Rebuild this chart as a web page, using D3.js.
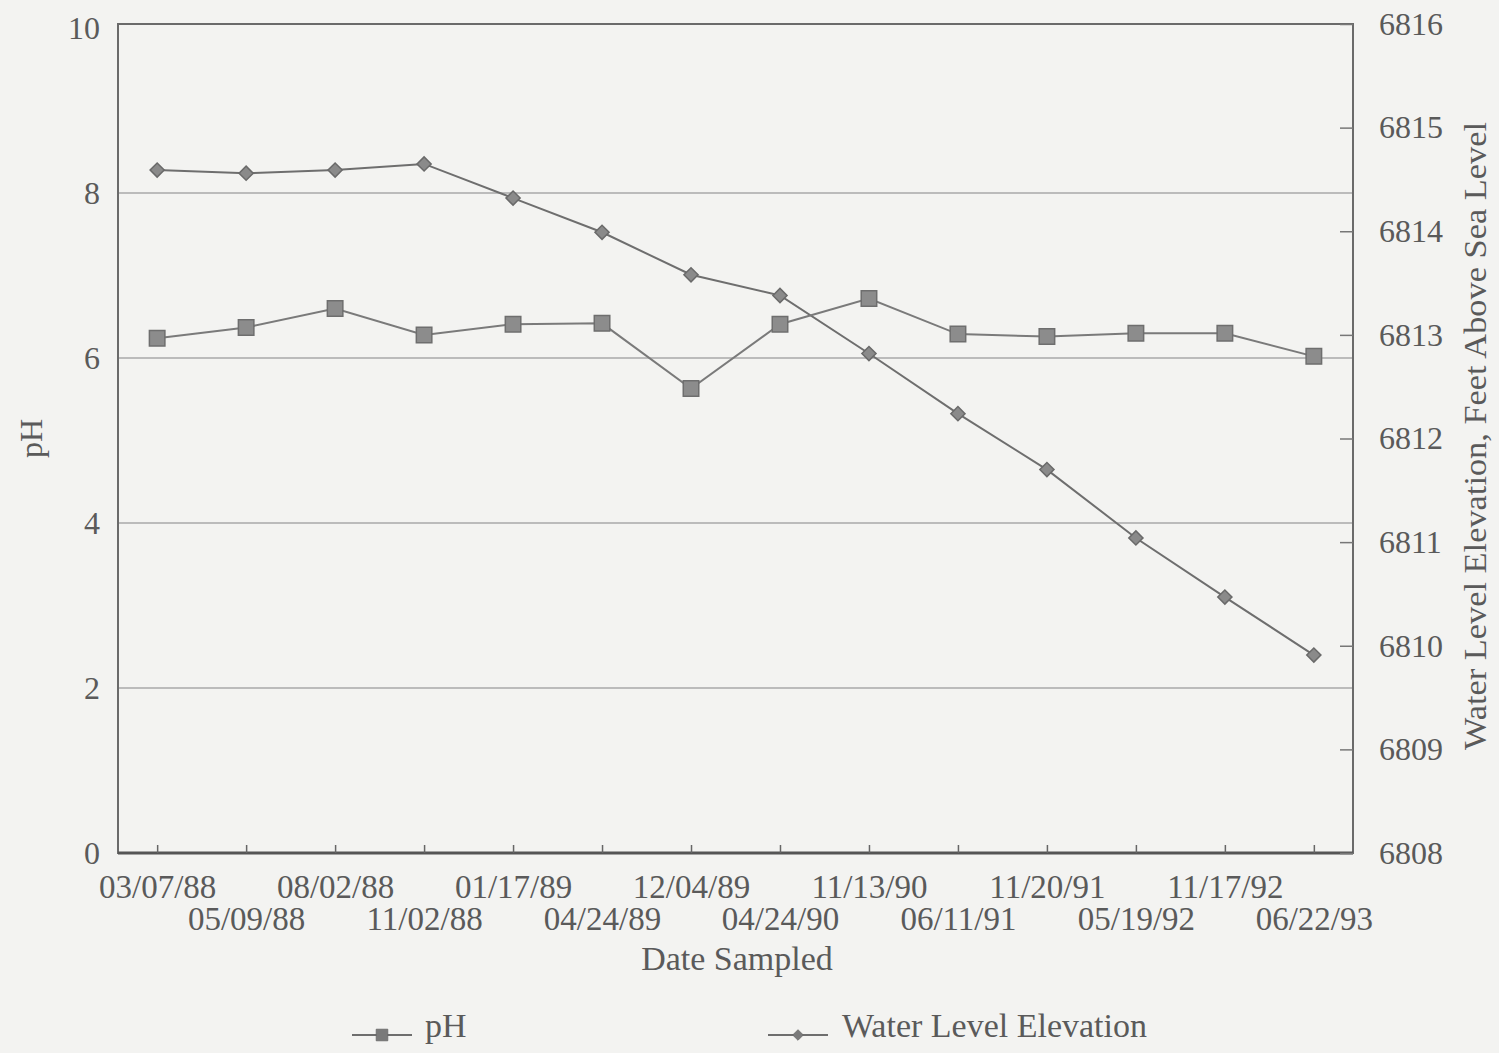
<!DOCTYPE html>
<html>
<head>
<meta charset="utf-8">
<script src="https://cdn.jsdelivr.net/npm/d3@7"></script>
<style>
  body { margin: 0; background: #f3f3f1; }
  svg { display: block; }
  text { font-family: "Liberation Serif", "Times New Roman", serif; fill: #5a5a5a; }
</style>
</head>
<body>
<svg id="chart_svg"></svg>
<script>
// Sampling dates
const dates = ["03/07/88", "05/09/88", "08/02/88", "11/02/88", "01/17/89", "04/24/89", "12/04/89",
  "04/24/90", "11/13/90", "06/11/91", "11/20/91", "05/19/92", "11/17/92", "06/22/93"];

// pH (left axis)
const phValues = [6.24, 6.37, 6.60, 6.28, 6.41, 6.42, 5.63, 6.41, 6.72, 6.29, 6.26, 6.30, 6.30, 6.02];

// Water level elevation, ft above sea level (right axis)
const waterLevels = [6814.59, 6814.56, 6814.59, 6814.65, 6814.32, 6813.99, 6813.58, 6813.38,
  6812.82, 6812.24, 6811.70, 6811.04, 6810.47, 6809.91];

const phTicks = [0, 2, 4, 6, 8, 10];
const levelTicks = [6808, 6809, 6810, 6811, 6812, 6813, 6814, 6815, 6816];

const width = 1499, height = 1053;
const margin = { top: 24, right: 146, bottom: 200, left: 118 };
const plotW = width - margin.left - margin.right;
const plotH = height - margin.top - margin.bottom;

const svg = d3.select("#chart_svg")
  .attr("width", width)
  .attr("height", height);

const g = svg.append("g")
  .attr("transform", `translate(${margin.left},${margin.top})`);

const x = d3.scalePoint()
  .domain(dates)
  .range([0, plotW])
  .padding(0.44);

const yPh = d3.scaleLinear().domain([0, 10]).range([plotH, 4]);
const yLevel = d3.scaleLinear().domain([6808, 6816]).range([plotH, 0]);

// Gridlines at the pH ticks
g.append("g")
  .selectAll("line")
  .data(phTicks.filter(d => d > 0 && d < 10))
  .enter().append("line")
  .attr("x1", 0)
  .attr("x2", plotW)
  .attr("y1", d => yPh(d))
  .attr("y2", d => yPh(d))
  .attr("stroke", "#a9a9a9")
  .attr("stroke-width", 1.5);

// Plot frame
g.append("rect")
  .attr("width", plotW)
  .attr("height", plotH)
  .attr("fill", "none")
  .attr("stroke", "#6a6a6a")
  .attr("stroke-width", 2);

g.append("line")
  .attr("x1", 0).attr("x2", plotW)
  .attr("y1", plotH).attr("y2", plotH)
  .attr("stroke", "#555")
  .attr("stroke-width", 3);

// Left axis labels
g.append("g")
  .call(d3.axisLeft(yPh).tickValues(phTicks).tickSize(0).tickPadding(18))
  .call(a => a.select(".domain").remove())
  .selectAll("text")
  .attr("font-size", 32)
  .attr("font-family", "Liberation Serif");

// Right axis: inward ticks
g.append("g")
  .attr("transform", `translate(${plotW},0)`)
  .call(d3.axisRight(yLevel).tickValues(levelTicks).tickSize(-13).tickPadding(26).tickFormat(d3.format("d")))
  .call(a => a.select(".domain").remove())
  .call(a => a.selectAll("line").attr("stroke", "#777").attr("stroke-width", 1.5))
  .selectAll("text")
  .attr("font-size", 32)
  .attr("font-family", "Liberation Serif");

// Bottom axis: inward ticks, labels staggered on two rows
const xAxis = g.append("g")
  .attr("transform", `translate(0,${plotH})`)
  .call(d3.axisBottom(x).tickSize(-8).tickPadding(0))
  .call(a => a.select(".domain").remove())
  .call(a => a.selectAll("line").attr("stroke", "#666").attr("stroke-width", 1.5));

xAxis.selectAll("text")
  .attr("font-size", 33)
  .attr("font-family", "Liberation Serif")
  .attr("dy", null)
  .attr("y", (d, i) => i % 2 === 0 ? 45 : 77);

// Axis titles
svg.append("text")
  .attr("transform", `translate(42,${margin.top + plotH * 0.5}) rotate(-90)`)
  .attr("text-anchor", "middle")
  .attr("font-size", 32)
  .text("pH");

svg.append("text")
  .attr("transform", `translate(1486,436) rotate(-90)`)
  .attr("text-anchor", "middle")
  .attr("font-size", 31)
  .attr("textLength", 628)
  .attr("lengthAdjust", "spacingAndGlyphs")
  .text("Water Level Elevation, Feet Above Sea Level");

svg.append("text")
  .attr("x", 737)
  .attr("y", 970)
  .attr("text-anchor", "middle")
  .attr("font-size", 34)
  .text("Date Sampled");

// Lines
const phLine = d3.line()
  .x((d, i) => x(dates[i]))
  .y(d => yPh(d));

const levelLine = d3.line()
  .x((d, i) => x(dates[i]))
  .y(d => yLevel(d));

g.append("path")
  .datum(waterLevels)
  .attr("d", levelLine)
  .attr("fill", "none")
  .attr("stroke", "#6e6e6e")
  .attr("stroke-width", 2);

g.append("path")
  .datum(phValues)
  .attr("d", phLine)
  .attr("fill", "none")
  .attr("stroke", "#7a7a7a")
  .attr("stroke-width", 2);

// Markers
const square = d3.symbol().type(d3.symbolSquare).size(240);
const diamond = d3.symbol().type(d3.symbolSquare).size(100);

g.append("g")
  .selectAll("path")
  .data(waterLevels)
  .enter().append("path")
  .attr("d", diamond)
  .attr("transform", (d, i) => `translate(${x(dates[i])},${yLevel(d)}) rotate(45)`)
  .attr("fill", "#8a8a8a")
  .attr("stroke", "#6a6a6a")
  .attr("stroke-width", 1.5);

g.append("g")
  .selectAll("path")
  .data(phValues)
  .enter().append("path")
  .attr("d", square)
  .attr("transform", (d, i) => `translate(${x(dates[i])},${yPh(d)})`)
  .attr("fill", "#8c8c8c")
  .attr("stroke", "#6e6e6e")
  .attr("stroke-width", 1.5);

// Legend
const legend = svg.append("g").attr("transform", "translate(0,1035)");
const items = [
  { label: "pH", x0: 352, sym: square, rot: 0, textX: 425 },
  { label: "Water Level Elevation", x0: 768, sym: diamond, rot: 45, textX: 842 }
];
items.forEach(it => {
  legend.append("line")
    .attr("x1", it.x0).attr("x2", it.x0 + 60)
    .attr("y1", 0).attr("y2", 0)
    .attr("stroke", "#6e6e6e").attr("stroke-width", 2);
  legend.append("path")
    .attr("d", it.sym)
    .attr("transform", `translate(${it.x0 + 30},0) scale(0.75) rotate(${it.rot})`)
    .attr("fill", "#7a7a7a")
    .attr("stroke", "#666");
  legend.append("text")
    .attr("x", it.textX)
    .attr("y", 2)
    .attr("font-size", 34)
    .text(it.label);
});
</script>
</body>
</html>
